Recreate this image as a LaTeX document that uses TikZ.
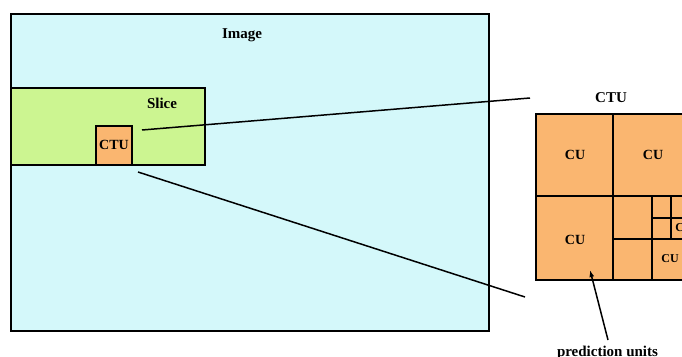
\documentclass[tikz,border=0pt]{standalone}
\usepackage{fontspec}
\setmainfont{Liberation Serif}
\usetikzlibrary{calc,arrows.meta}
\definecolor{imgcyan}{RGB}{212,248,250}
\definecolor{slicegreen}{RGB}{204,245,145}
\definecolor{ctuorange}{RGB}{250,182,112}

\begin{document}
\begin{tikzpicture}[x=1pt,y=-1pt,line width=1.5pt,>={Latex[length=7pt,width=5pt]},
    lbl/.style={font=\bfseries\fontsize{15}{18}\selectfont},
    cu/.style={font=\bfseries\fontsize{14}{17}\selectfont},
    smallcu/.style={font=\bfseries\fontsize{12}{14}\selectfont}]
            \clip (0,0) rectangle (682,356);
            \coordinate (I1) at (11,14);
            \coordinate (I2) at (489,331);
            \coordinate (S1) at (11,88);
            \coordinate (S2) at (205,165);
            \coordinate (C1) at (96,126);
            \coordinate (C2) at (132,165);
            \coordinate (B1) at (536,114);
            \coordinate (B2) at (691,280);
            \draw[fill=imgcyan] (I1) rectangle (I2);
            \draw[fill=slicegreen] (S1) rectangle (S2);
            \draw[fill=ctuorange] (C1) rectangle (C2);
            \node[lbl] (image) at (242,35) {Image};
            \node[lbl] (slice) at (162,103) {Slice};
            \node[font=\bfseries\fontsize{14}{17}\selectfont] (ctu) at (114,145) {CTU};
            % zoomed CTU
            \draw[fill=ctuorange] (B1) rectangle (B2);
            \node[lbl] (bigctu) at (611,98) {CTU};
            \draw (613,114) -- (613,280);
            \draw (536,196) -- (691,196);
            \draw (652,196) -- (652,280);
            \draw (613,239) -- (691,239);
            \draw (671,196) -- (671,239);
            \draw (652,218) -- (691,218);
            \node[cu] (cua) at (575,155) {CU};
            \node[cu] (cub) at (653,155) {CU};
            \node[cu] (cuc) at (575,240) {CU};
            \node[smallcu] (cud) at (670,259) {CU};
            \node[smallcu] (cue) at (684,228) {CU};
            % zoom lines
            \coordinate (La) at (142,130);
            \coordinate (Lb) at (530,98);
            \coordinate (Lc) at (138,172);
            \coordinate (Ld) at (525,297);
            \draw (La) -- (Lb);
            \draw (Lc) -- (Ld);
            \node[lbl,anchor=base] (pu) at (607.5,356) {prediction units};
            \coordinate (P) at (590,270);
            \draw[->] (608,340) -- (P);
\end{tikzpicture}
\end{document}
